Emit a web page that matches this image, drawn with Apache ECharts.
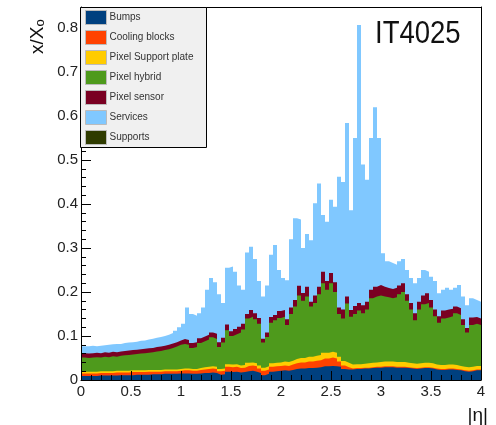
<!DOCTYPE html>
<html><head><meta charset="utf-8">
<script src="https://cdn.jsdelivr.net/npm/echarts@6/dist/echarts.min.js"></script>
<style>html,body{margin:0;padding:0;background:#fff}#c{width:496px;height:425px}</style>
</head><body><div id="c"></div>
<script>
// |eta| histogram: 100 bins of width 0.04 from 0 to 4
const etaMin = 0, etaMax = 4, binWidth = 0.04;
const xTickLabels = ['0','0.5','1','1.5','2','2.5','3','3.5','4'];
const yTickLabels = ['0','0.1','0.2','0.3','0.4','0.5','0.6','0.7','0.8'];
const title = 'IT4025';

const bumps = [.009,.009,.009,.009,.010,.010,.010,.010,.010,.011, .011,.011,.011,.012,.012,.012,.012,.013,.013,.013,
 .014,.014,.014,.014,.015,.015,.015,.014,.014,.015, .016,.016,.017,.016,.012,.013,.019,.018,.019,.017,
 .018,.020,.021,.019,.016,.011,.014,.019,.020,.021, .022,.021,.023,.025,.026,.026,.027,.027,.028,.029,
 .031,.031,.032,.031,.030,.025,.024,.024,.025,.025, .026,.026,.027,.028,.028,.029,.029,.029,.028,.028,
 .028,.027,.026,.025,.026,.027,.027,.026,.024,.023, .023,.024,.024,.023,.022,.020,.019,.020,.022,.022];
const coolingBlocks = [.006,.006,.006,.006,.006,.006,.006,.006,.007,.006, .006,.006,.007,.006,.006,.006,.007,.006,.006,.006,
 .006,.006,.006,.006,.006,.007,.007,.007,.007,.008, .008,.009,.009,.009,.008,.008,.011,.011,.011,.010,
 .010,.012,.012,.012,.010,.010,.010,.011,.011,.011, .011,.011,.012,.013,.014,.014,.015,.015,.016,.016,
 .018,.018,.019,.018,.012,.008,.005,.002,.002,.002, .002,.002,.002,.002,.002,.002,.002,.002,.002,.002,
 .002,.002,.002,.002,.002,.002,.002,.002,.002,.002, .002,.002,.002,.002,.002,.002,.002,.002,.002,.002];
const supportPlate = [.004,.004,.004,.004,.004,.004,.004,.004,.004,.004, .004,.004,.004,.004,.004,.004,.004,.004,.004,.004,
 .004,.004,.004,.004,.004,.004,.004,.004,.004,.004, .005,.005,.005,.005,.005,.005,.006,.006,.006,.006,
 .006,.007,.007,.007,.007,.007,.007,.008,.008,.008, .009,.009,.009,.010,.010,.010,.011,.011,.011,.012,
 .013,.013,.013,.013,.011,.010,.010,.009,.009,.009, .009,.010,.010,.010,.011,.011,.011,.011,.011,.011,
 .011,.010,.010,.010,.010,.010,.010,.010,.009,.009, .009,.009,.009,.009,.008,.008,.008,.008,.008,.008];
const pixelHybrid = [.032,.031,.032,.033,.031,.033,.032,.034,.032,.034, .035,.036,.036,.037,.038,.039,.039,.040,.042,.043,
 .044,.046,.049,.052,.055,.056,.054,.048,.050,.057, .059,.062,.066,.063,.050,.059,.077,.065,.068,.075,
 .081,.101,.104,.100,.095,.057,.067,.092,.097,.101, .102,.084,.106,.119,.142,.130,.137,.114,.120,.138,
 .158,.143,.156,.138,.097,.097,.135,.109,.114,.122, .115,.122,.147,.150,.151,.148,.146,.144,.147,.154,
 .159,.141,.122,.099,.122,.133,.136,.127,.110,.096, .106,.107,.110,.118,.116,.095,.079,.095,.096,.093];
const pixelSensor = [.010,.010,.010,.010,.010,.010,.010,.010,.010,.010, .010,.010,.010,.010,.010,.010,.010,.010,.010,.010,
 .010,.010,.010,.010,.010,.011,.011,.011,.011,.011, .011,.011,.011,.012,.011,.011,.013,.011,.012,.013,
 .013,.010,.015,.014,.013,.009,.010,.013,.012,.016, .015,.013,.015,.015,.022,.018,.022,.011,.017,.017,
 .026,.020,.023,.022,.015,.020,.016,.015,.018,.017, .018,.018,.019,.022,.024,.022,.021,.021,.022,.020,
 .020,.015,.015,.016,.018,.020,.022,.017,.015,.015, .018,.018,.017,.015,.015,.013,.010,.017,.015,.015];
const services = [.016,.017,.017,.015,.017,.016,.018,.017,.019,.017, .018,.018,.018,.018,.019,.019,.020,.021,.021,.022,
 .022,.023,.024,.026,.030,.035,.074,.066,.060,.057, .066,.102,.124,.117,.109,.079,.129,.147,.130,.094,
 .077,.140,.144,.123,.084,.096,.107,.142,.159,.093, .073,.089,.155,.186,.151,.102,.120,.140,.210,.235,
 .129,.135,.167,.172,.297,.290,.394,.227,.382,.632, .320,.277,.345,.408,.334,.076,.061,.059,.052,.055,
 .055,.055,.057,.068,.054,.058,.049,.053,.065,.052, .047,.050,.043,.043,.053,.052,.052,.044,.039,.038];
const supports = [];

const components = [
  {name:'Bumps', data:bumps, color:'#00407f'},
  {name:'Cooling blocks', data:coolingBlocks, color:'#ff4200'},
  {name:'Pixel Support plate', data:supportPlate, color:'#ffcc00'},
  {name:'Pixel hybrid', data:pixelHybrid, color:'#4e9a1c'},
  {name:'Pixel sensor', data:pixelSensor, color:'#7a0022'},
  {name:'Services', data:services, color:'#80c8ff'},
  {name:'Supports', data:supports, color:'#2f3b00'}
];

// cumulative (stacked) boundaries
let run = bumps.map(() => 0);
const layers = components.map(c => {
  if (!c.data.length) return {...c, pts: []};
  run = run.map((v, i) => v + c.data[i]);
  const pts = run.map((v, i) => [+(etaMin + i * binWidth).toFixed(2), v]);
  pts.push([etaMax, run[run.length - 1]]);
  return {...c, pts};
});

const series = layers.slice().reverse().map(l => ({
  name: l.name, type: 'line', step: 'end', data: l.pts,
  showSymbol: false, symbol: 'none', color: l.color,
  itemStyle: {color: l.color},
  lineStyle: {width: 0, color: l.color},
  areaStyle: {color: l.color, opacity: 1},
  z: 2, silent: true, animation: false
}));

const font = '"Liberation Sans", Arial, sans-serif';
const chart = echarts.init(document.getElementById('c'), null, {renderer: 'canvas'});
chart.setOption({
  animation: false,
  grid: {left: 81, right: 15, top: 7, bottom: 45, containLabel: false},
  xAxis: [{
    type: 'value', min: etaMin, max: etaMax, interval: 0.5, z: 5,
    axisLine: {show: true, lineStyle: {color: '#000', width: 1}},
    axisTick: {show: true, inside: true, length: 9, lineStyle: {color: '#000'}},
    minorTick: {show: true, splitNumber: 5, length: 5, lineStyle: {color: '#000'}},
    splitLine: {show: false},
    axisLabel: {fontSize: 15, color: '#222', fontFamily: font, margin: 4,
      formatter: v => xTickLabels[Math.round(v / 0.5)] ?? ''}
  }, {
    type: 'value', position: 'top', min: etaMin, max: etaMax, z: 5,
    axisLine: {show: true, onZero: false, lineStyle: {color: '#000', width: 1}},
    axisTick: {show: false}, axisLabel: {show: false}, splitLine: {show: false}
  }],
  yAxis: [{
    type: 'value', min: 0, max: 0.848, interval: 0.1, z: 5,
    axisLine: {show: true, lineStyle: {color: '#000', width: 1}},
    axisTick: {show: true, inside: true, length: 10, lineStyle: {color: '#000'}},
    minorTick: {show: true, splitNumber: 5, length: 5, lineStyle: {color: '#000'}},
    splitLine: {show: false},
    axisLabel: {fontSize: 15, color: '#222', fontFamily: font, margin: 3, showMaxLabel: false,
      formatter: v => { const k = Math.round(v / 0.1); return Math.abs(v - k * 0.1) < 1e-6 ? (yTickLabels[k] ?? '') : ''; }}
  }, {
    type: 'value', position: 'right', min: 0, max: 0.848, z: 5,
    axisLine: {show: true, onZero: false, lineStyle: {color: '#000', width: 1}},
    axisTick: {show: false}, axisLabel: {show: false}, splitLine: {show: false}
  }],
  legend: {
    orient: 'vertical', left: 85, top: 10, padding: 0, itemGap: 5,
    itemWidth: 21, itemHeight: 14, icon: 'rect', z: 20,
    data: components.map(c => ({name: c.name, itemStyle: {color: c.color, borderColor: '#bbb', borderWidth: 1}})),
    textStyle: {fontSize: 10, lineHeight: 14, color: '#333', fontFamily: font, padding: [0, 0, 0, -2]},
    selectedMode: false
  },
  graphic: [
    {type: 'rect', z: 10, shape: {x: 80.5, y: 7.5, width: 126, height: 140},
     style: {fill: '#f0f0f0', stroke: '#000', lineWidth: 1}},
    {type: 'text', z: 10, x: 375, y: 34, scaleX: 0.86, style: {text: title, font: '32px ' + font,
      fill: '#111', textVerticalAlign: 'middle'}},
    {type: 'text', z: 10, x: 47, y: 54, rotation: Math.PI / 2,
     style: {text: 'x/X{s|o}', font: '19px ' + font, fill: '#111', textAlign: 'left', textVerticalAlign: 'bottom',
       rich: {s: {fontSize: 13, fontFamily: 'Liberation Sans', fill: '#111', padding: [6, 0, 0, 0]}}}},
    {type: 'text', z: 10, x: 488, y: 425, style: {text: '|η|', font: '19px ' + font, fill: '#111',
      textAlign: 'right', textVerticalAlign: 'bottom'}}
  ],
  series: series
});
</script></body></html>
